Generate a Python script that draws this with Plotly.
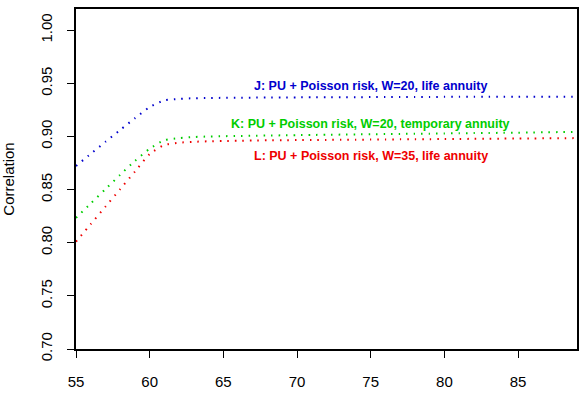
import plotly.graph_objects as go

ages = list(range(55, 90))
# J: PU + Poisson risk, W=20, life annuity
j_vals = [0.8723, 0.8837, 0.8950, 0.9062, 0.9172, 0.9277, 0.9340, 0.9354, 0.9360, 0.9362,
          0.9364, 0.9365, 0.9366, 0.9367, 0.9368, 0.9368, 0.9369, 0.9369, 0.9370, 0.9370,
          0.9371, 0.9371, 0.9372, 0.9372, 0.9372, 0.9373, 0.9373, 0.9373, 0.9374, 0.9374,
          0.9374, 0.9375, 0.9375, 0.9375, 0.9375]
# K: PU + Poisson risk, W=20, temporary annuity
k_vals = [0.8234, 0.8370, 0.8505, 0.8640, 0.8770, 0.8885, 0.8965, 0.8985, 0.8995, 0.9000,
          0.9003, 0.9005, 0.9007, 0.9009, 0.9011, 0.9013, 0.9015, 0.9016, 0.9018, 0.9020,
          0.9021, 0.9023, 0.9024, 0.9026, 0.9027, 0.9029, 0.9030, 0.9032, 0.9033, 0.9035,
          0.9036, 0.9038, 0.9040, 0.9042, 0.9044]
# L: PU + Poisson risk, W=35, life annuity
l_vals = [0.8010, 0.8175, 0.8340, 0.8505, 0.8670, 0.8835, 0.8920, 0.8942, 0.8950, 0.8955,
          0.8958, 0.8960, 0.8962, 0.8964, 0.8965, 0.8966, 0.8967, 0.8968, 0.8969, 0.8970,
          0.8971, 0.8972, 0.8973, 0.8974, 0.8975, 0.8976, 0.8977, 0.8978, 0.8979, 0.8980,
          0.8981, 0.8982, 0.8983, 0.8984, 0.8985]

labels = ["J: PU + Poisson risk, W=20, life annuity",
          "K: PU + Poisson risk, W=20, temporary annuity",
          "L: PU + Poisson risk, W=35, life annuity"]
label_x = [75, 75, 75]
label_y = [0.9478, 0.912, 0.882]
colors = ["#0000CD", "#00CD00", "#EE0000"]

x_ticks = [55, 60, 65, 70, 75, 80, 85]
y_ticks = [0.70, 0.75, 0.80, 0.85, 0.90, 0.95, 1.00]
y_tick_text = ["0.70", "0.75", "0.80", "0.85", "0.90", "0.95", "1.00"]

FONT = "Liberation Sans, Arial, sans-serif"

fig = go.Figure()
for vals, col in zip([j_vals, k_vals, l_vals], colors):
    fig.add_trace(go.Scatter(x=ages, y=vals, mode="lines", line_shape="spline",
                             line=dict(color=col, width=2, dash="1.5px,6px", smoothing=0.6),
                             showlegend=False, hoverinfo="skip"))

for txt, xv, yv, col in zip(labels, label_x, label_y, colors):
    fig.add_annotation(x=xv, y=yv, text="<b>" + txt + "</b>", showarrow=False,
                       font=dict(family=FONT, size=12.5, color=col),
                       xanchor="center", yanchor="middle")

fig.update_layout(
    width=586, height=398,
    margin=dict(l=74, r=8, t=7, b=49),
    paper_bgcolor="white", plot_bgcolor="white",
    font=dict(family=FONT, size=15, color="black"),
)
fig.update_xaxes(range=[55, 89], tickvals=x_ticks, ticks="outside", ticklen=7, tickwidth=1,
                 tickcolor="black", showgrid=False, zeroline=False,
                 showline=True, linecolor="black", linewidth=2, mirror=True,
                 tickfont=dict(size=15), ticklabelstandoff=11)
fig.update_yaxes(range=[0.70, 1.02], tickvals=y_ticks, ticktext=y_tick_text, tickangle=-90,
                 ticks="outside", ticklen=7, tickwidth=1, tickcolor="black",
                 showgrid=False, zeroline=False,
                 showline=True, linecolor="black", linewidth=2, mirror=True,
                 tickfont=dict(size=15), ticklabelstandoff=9,
                 title=dict(text="Correlation", font=dict(size=15), standoff=20))

fig.write_html("out.html")
